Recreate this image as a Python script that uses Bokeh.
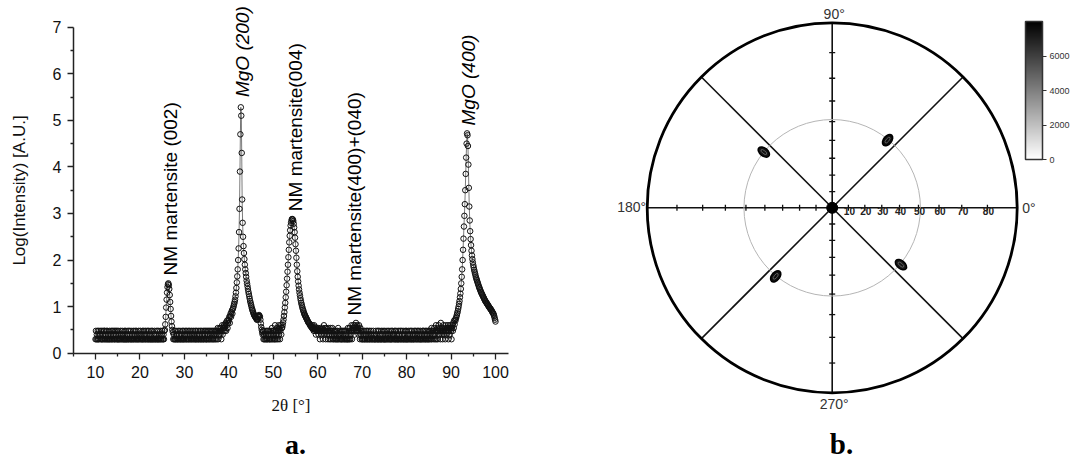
import math
from bokeh.plotting import figure
from bokeh.layouts import row
from bokeh.models import Range1d, FixedTicker, Label, ColumnDataSource, ColorBar, LinearColorMapper
from bokeh.palettes import Greys256
from bokeh.embed import file_html
from bokeh.resources import INLINE
from bokeh.core.properties import value

# ---------------- (a) XRD scan ----------------
SCAN_START = 10.0   # 2theta of first point
SCAN_STEP = 0.1     # 2theta step

# log10 intensity, one row per degree (x.0 ... x.9), 10 .. 99, then 100.0
log_intensity = [
    0.30,0.48,0.30,0.40,0.30,0.48,0.30,0.30,0.48,0.40,  # 10
    0.30,0.40,0.48,0.30,0.30,0.48,0.30,0.40,0.30,0.48,  # 11
    0.48,0.30,0.30,0.40,0.48,0.30,0.30,0.48,0.30,0.40,  # 12
    0.30,0.30,0.48,0.30,0.40,0.30,0.48,0.30,0.30,0.48,  # 13
    0.40,0.30,0.48,0.30,0.30,0.48,0.40,0.30,0.48,0.30,  # 14
    0.30,0.48,0.30,0.30,0.40,0.30,0.48,0.30,0.40,0.30,  # 15
    0.48,0.30,0.40,0.30,0.30,0.48,0.30,0.30,0.48,0.30,  # 16
    0.30,0.40,0.30,0.48,0.30,0.30,0.48,0.40,0.30,0.30,  # 17
    0.48,0.30,0.30,0.40,0.30,0.48,0.30,0.30,0.40,0.48,  # 18
    0.30,0.30,0.48,0.30,0.40,0.30,0.30,0.48,0.30,0.40,  # 19
    0.30,0.48,0.30,0.40,0.30,0.30,0.48,0.30,0.30,0.48,  # 20
    0.40,0.30,0.30,0.48,0.30,0.40,0.30,0.48,0.30,0.30,  # 21
    0.48,0.30,0.40,0.30,0.30,0.48,0.30,0.30,0.48,0.30,  # 22
    0.30,0.40,0.30,0.48,0.30,0.30,0.40,0.30,0.48,0.30,  # 23
    0.30,0.48,0.30,0.30,0.40,0.30,0.48,0.30,0.30,0.40,  # 24
    0.48,0.30,0.30,0.40,0.30,0.48,0.50,0.62,0.78,0.98,  # 25
    1.15,1.30,1.42,1.48,1.50,1.46,1.38,1.25,1.10,0.95,  # 26
    0.80,0.68,0.58,0.50,0.45,0.30,0.40,0.30,0.48,0.30,  # 27
    0.30,0.48,0.30,0.40,0.30,0.30,0.48,0.30,0.40,0.30,  # 28
    0.48,0.30,0.30,0.40,0.30,0.48,0.30,0.30,0.48,0.30,  # 29
    0.30,0.40,0.48,0.30,0.30,0.48,0.30,0.40,0.30,0.48,  # 30
    0.30,0.30,0.48,0.40,0.30,0.30,0.48,0.30,0.40,0.30,  # 31
    0.48,0.30,0.40,0.30,0.48,0.30,0.30,0.48,0.30,0.40,  # 32
    0.30,0.48,0.30,0.30,0.40,0.48,0.30,0.30,0.48,0.30,  # 33
    0.40,0.30,0.48,0.30,0.30,0.48,0.40,0.30,0.48,0.30,  # 34
    0.30,0.48,0.30,0.40,0.48,0.30,0.30,0.48,0.40,0.30,  # 35
    0.48,0.30,0.40,0.48,0.30,0.30,0.48,0.40,0.30,0.48,  # 36
    0.30,0.48,0.40,0.30,0.48,0.54,0.30,0.48,0.40,0.54,  # 37
    0.48,0.40,0.54,0.30,0.48,0.60,0.40,0.54,0.48,0.60,  # 38
    0.54,0.48,0.60,0.65,0.48,0.60,0.70,0.54,0.65,0.72,  # 39
    0.70,0.78,0.65,0.80,0.85,0.78,0.88,0.92,0.85,0.95,  # 40
    0.98,1.02,1.06,1.10,1.15,1.22,1.30,1.40,1.52,1.65,  # 41
    1.80,2.00,2.25,2.60,3.10,3.90,4.70,5.28,5.10,4.30,  # 42
    3.30,2.80,2.50,2.30,2.15,2.02,1.90,1.80,1.72,1.64,  # 43
    1.56,1.50,1.44,1.38,1.32,1.27,1.22,1.17,1.12,1.08,  # 44
    1.04,1.00,0.96,0.93,0.90,0.87,0.84,0.82,0.80,0.78,  # 45
    0.78,0.76,0.74,0.72,0.72,0.74,0.78,0.80,0.82,0.80,  # 46
    0.78,0.72,0.64,0.56,0.50,0.45,0.40,0.48,0.30,0.40,  # 47
    0.30,0.48,0.30,0.40,0.30,0.48,0.30,0.30,0.48,0.40,  # 48
    0.30,0.48,0.30,0.30,0.40,0.48,0.30,0.54,0.30,0.48,  # 49
    0.40,0.30,0.48,0.30,0.60,0.30,0.48,0.40,0.30,0.54,  # 50
    0.48,0.30,0.60,0.40,0.54,0.30,0.48,0.60,0.40,0.54,  # 51
    0.55,0.60,0.66,0.72,0.80,0.88,0.98,1.08,1.20,1.32,  # 52
    1.46,1.60,1.75,1.90,2.06,2.22,2.38,2.52,2.64,2.74,  # 53
    2.80,2.85,2.88,2.88,2.87,2.84,2.78,2.70,2.60,2.48,  # 54
    2.34,2.20,2.05,1.90,1.76,1.64,1.54,1.45,1.37,1.30,  # 55
    1.24,1.18,1.13,1.08,1.04,1.00,0.96,0.93,0.90,0.87,  # 56
    0.84,0.82,0.80,0.78,0.76,0.74,0.72,0.70,0.68,0.66,  # 57
    0.65,0.64,0.62,0.60,0.58,0.60,0.56,0.54,0.60,0.52,  # 58
    0.54,0.48,0.60,0.52,0.48,0.56,0.40,0.54,0.48,0.50,  # 59
    0.48,0.54,0.40,0.52,0.48,0.30,0.54,0.48,0.40,0.52,  # 60
    0.48,0.54,0.30,0.48,0.60,0.40,0.48,0.54,0.30,0.48,  # 61
    0.54,0.40,0.48,0.30,0.54,0.48,0.40,0.30,0.48,0.54,  # 62
    0.30,0.48,0.40,0.54,0.30,0.48,0.30,0.40,0.48,0.30,  # 63
    0.48,0.30,0.40,0.30,0.48,0.30,0.54,0.30,0.40,0.48,  # 64
    0.30,0.40,0.30,0.48,0.30,0.30,0.48,0.40,0.30,0.48,  # 65
    0.30,0.48,0.30,0.40,0.30,0.48,0.30,0.30,0.54,0.30,  # 66
    0.48,0.30,0.54,0.30,0.40,0.48,0.60,0.30,0.48,0.54,  # 67
    0.60,0.48,0.54,0.40,0.60,0.48,0.65,0.54,0.48,0.60,  # 68
    0.48,0.54,0.40,0.60,0.48,0.30,0.54,0.40,0.48,0.30,  # 69
    0.30,0.48,0.30,0.40,0.30,0.48,0.30,0.30,0.40,0.48,  # 70
    0.30,0.30,0.48,0.30,0.40,0.30,0.48,0.30,0.30,0.40,  # 71
    0.48,0.30,0.30,0.40,0.30,0.48,0.30,0.40,0.30,0.30,  # 72
    0.30,0.48,0.40,0.30,0.30,0.48,0.30,0.30,0.48,0.30,  # 73
    0.40,0.30,0.30,0.48,0.30,0.30,0.40,0.48,0.30,0.30,  # 74
    0.30,0.48,0.30,0.30,0.40,0.30,0.48,0.30,0.40,0.30,  # 75
    0.48,0.30,0.40,0.30,0.30,0.48,0.30,0.30,0.48,0.40,  # 76
    0.30,0.40,0.30,0.48,0.30,0.30,0.48,0.30,0.40,0.30,  # 77
    0.30,0.48,0.30,0.30,0.40,0.48,0.30,0.30,0.48,0.30,  # 78
    0.40,0.30,0.48,0.30,0.30,0.40,0.30,0.48,0.30,0.30,  # 79
    0.48,0.30,0.30,0.40,0.30,0.48,0.30,0.40,0.30,0.48,  # 80
    0.30,0.30,0.48,0.30,0.40,0.30,0.30,0.48,0.30,0.40,  # 81
    0.48,0.30,0.30,0.40,0.48,0.30,0.30,0.48,0.40,0.30,  # 82
    0.30,0.48,0.30,0.30,0.40,0.30,0.48,0.30,0.48,0.30,  # 83
    0.40,0.30,0.48,0.30,0.30,0.48,0.40,0.30,0.30,0.48,  # 84
    0.30,0.48,0.30,0.40,0.48,0.30,0.54,0.30,0.48,0.40,  # 85
    0.48,0.30,0.54,0.40,0.30,0.48,0.60,0.30,0.48,0.54,  # 86
    0.30,0.48,0.60,0.40,0.54,0.48,0.30,0.65,0.48,0.40,  # 87
    0.54,0.30,0.48,0.60,0.40,0.48,0.54,0.30,0.60,0.48,  # 88
    0.40,0.54,0.48,0.60,0.30,0.54,0.48,0.40,0.60,0.54,  # 89
    0.48,0.30,0.54,0.60,0.48,0.65,0.54,0.70,0.62,0.72,  # 90
    0.70,0.75,0.78,0.82,0.86,0.90,0.95,1.00,1.06,1.12,  # 91
    1.20,1.28,1.38,1.50,1.64,1.80,2.00,2.22,2.46,2.72,  # 92
    2.95,3.20,3.50,3.85,4.20,4.50,4.72,4.68,4.45,4.05,  # 93
    3.55,3.15,2.85,2.62,2.45,2.32,2.20,2.10,2.02,1.95,  # 94
    1.89,1.84,1.79,1.75,1.71,1.67,1.63,1.60,1.57,1.54,  # 95
    1.51,1.48,1.45,1.42,1.40,1.37,1.35,1.32,1.30,1.28,  # 96
    1.26,1.24,1.22,1.20,1.18,1.16,1.14,1.12,1.11,1.09,  # 97
    1.08,1.06,1.05,1.03,1.02,1.00,0.99,0.97,0.96,0.95,  # 98
    0.93,0.92,0.90,0.88,0.87,0.85,0.83,0.80,0.76,0.72,  # 99
    0.68,                                               # 100
]
two_theta = [round(SCAN_START + SCAN_STEP * i, 2) for i in range(len(log_intensity))]

x_major_ticks = [10, 20, 30, 40, 50, 60, 70, 80, 90, 100]
x_minor_ticks = [5, 15, 25, 35, 45, 55, 65, 75, 85, 95]
y_major_ticks = [0, 1, 2, 3, 4, 5, 6, 7]
y_minor_ticks = [0.5, 1.5, 2.5, 3.5, 4.5, 5.5, 6.5]
x_axis_span = (5, 103)
y_axis_span = (0, 7)

peak_names = ["NM martensite (002)", "MgO (200)", "NM martensite(004)",
              "NM martensite(400)+(040)", "MgO (400)"]
peak_name_x = [26.9, 43.0, 55.0, 68.3, 93.9]
peak_name_y = [1.67, 5.50, 3.05, 0.81, 4.89]
peak_name_style = ["normal", "italic", "normal", "normal", "italic"]

# ---------------- (b) pole figure ----------------
pole_psi = [50.6, 51.0, 51.3, 51.5]
pole_phi = [50.7, 140.8, 230.5, 320.4]
pole_intensity = [7600, 7400, 7500, 7300]
psi_ticks = [10, 20, 30, 40, 50, 60, 70, 80]
ring_psi = 51
spoke_azimuths = [0, 45, 90, 135, 180, 225, 270, 315]
tick_azimuths = [0, 90, 180, 270]
cbar_ticks = [0, 2000, 4000, 6000]
cbar_low, cbar_high = 0, 8000

SANS = "Liberation Sans"
SERIF = "Liberation Serif"
H = 460

# ======== figure a ========
# frame fills the figure; axes are pinned at x=5 / y=0 with fixed_location
PX_PER_DEG = 400.0 / 90.0
PX_PER_UNIT = 326.0 / 7.0
X0_PX, Y0_PX = 95.0, 352.7     # pixel of 2theta=10 and of logI=0
W1 = 538
p1 = figure(width=W1, height=H, output_backend="svg", toolbar_location=None, title=None,
            x_range=Range1d(10 - X0_PX / PX_PER_DEG, 10 + (W1 - X0_PX) / PX_PER_DEG),
            y_range=Range1d(-(H - Y0_PX) / PX_PER_UNIT, Y0_PX / PX_PER_UNIT),
            min_border=0, min_border_left=0, min_border_right=0,
            min_border_top=0, min_border_bottom=0)
p1.outline_line_color = None
p1.grid.visible = False
p1.background_fill_color = "white"

src = ColumnDataSource(dict(x=two_theta, y=log_intensity))
p1.line("x", "y", source=src, line_color="#222222", line_width=0.6)
p1.scatter("x", "y", source=src, marker="circle", size=5.5, fill_color=None,
           line_color="#111111", line_width=1.0)

p1.xaxis.ticker = FixedTicker(ticks=x_major_ticks, minor_ticks=x_minor_ticks)
p1.yaxis.ticker = FixedTicker(ticks=y_major_ticks, minor_ticks=y_minor_ticks)
p1.xaxis.fixed_location = y_axis_span[0]
p1.yaxis.fixed_location = x_axis_span[0]
p1.xaxis.bounds = x_axis_span
p1.yaxis.bounds = y_axis_span
for ax in (p1.xaxis[0], p1.yaxis[0]):
    ax.axis_line_color = "#222222"
    ax.axis_line_width = 1.5
    ax.major_tick_line_color = "#222222"
    ax.minor_tick_line_color = "#222222"
    ax.major_tick_line_width = 1.3
    ax.minor_tick_line_width = 1.3
    ax.major_tick_in = 0
    ax.minor_tick_in = 0
    ax.major_tick_out = 6
    ax.minor_tick_out = 3
    ax.major_label_text_font = SANS
    ax.major_label_text_font_size = "16px"
    ax.major_label_text_color = "#111111"
    ax.axis_label_text_font_style = "normal"
    ax.axis_label_text_color = "#111111"
    ax.axis_label_text_font_size = "17px"
p1.xaxis.axis_label = "2θ [°]"
p1.xaxis.axis_label_text_font = SERIF
p1.xaxis.major_label_standoff = 7
p1.xaxis.axis_label_standoff = 14
p1.yaxis.axis_label = "Log(Intensity) [A.U.]"
p1.yaxis.axis_label_text_font = SANS
p1.yaxis.major_label_standoff = 6
p1.yaxis.axis_label_standoff = 21

for name, px, py, st in zip(peak_names, peak_name_x, peak_name_y, peak_name_style):
    p1.add_layout(Label(x=px, y=py, text=name, angle=90, angle_units="deg",
                        text_align="left", text_baseline="middle",
                        text_font=SANS, text_font_size="19px", text_font_style=st,
                        text_color="#000000"))

p1.add_layout(Label(x=55.0, y=-(444 - Y0_PX) / PX_PER_UNIT, text="a.", text_align="center",
                    text_baseline="alphabetic", text_font=SERIF, text_font_size="28px",
                    text_font_style="bold", text_color="#000000"))

# ======== figure b ========
R = 185.0                  # pixel radius of psi = 90 deg (stereographic projection)
CX, CY = 831.7, 207.3      # page pixel of the projection centre
W2 = 1071 - W1

def proj(psi):
    return R * math.tan(math.radians(psi) / 2.0)

p2 = figure(width=W2, height=H, output_backend="svg", toolbar_location=None, title=None,
            x_range=Range1d(W1 - CX, W1 + W2 - CX), y_range=Range1d(CY - H, CY),
            x_axis_type=None, y_axis_type=None,
            min_border=0, min_border_left=0, min_border_right=0,
            min_border_top=0, min_border_bottom=0)
p2.outline_line_color = None
p2.grid.visible = False

# spokes
p2.segment(x0=[0] * len(spoke_azimuths), y0=[0] * len(spoke_azimuths),
           x1=[R * math.cos(math.radians(a)) for a in spoke_azimuths],
           y1=[R * math.sin(math.radians(a)) for a in spoke_azimuths],
           line_color="#111111", line_width=1.6)
# ring
p2.circle(x=[0], y=[0], radius=[proj(ring_psi)], fill_color=None,
          line_color="#b5b5b5", line_width=1.0)
# outer circle
p2.circle(x=[0], y=[0], radius=[R], fill_color=None, line_color="#000000", line_width=2.8)

# ticks on the four main axes
tx0, ty0, tx1, ty1 = [], [], [], []
for a in tick_azimuths:
    ca, sa = math.cos(math.radians(a)), math.sin(math.radians(a))
    for ps in psi_ticks:
        r = proj(ps)
        cx, cy = r * ca, r * sa
        tx0.append(cx - 3 * sa); ty0.append(cy + 3 * ca)
        tx1.append(cx + 3 * sa); ty1.append(cy - 3 * ca)
p2.segment(x0=tx0, y0=ty0, x1=tx1, y1=ty1, line_color="#111111", line_width=1.3)

# psi tick labels along 0 deg axis
p2.text(x=[proj(ps) + 1 for ps in psi_ticks], y=[-3] * len(psi_ticks),
        text=[str(ps) for ps in psi_ticks], text_align="center", text_baseline="middle",
        text_font=value(SANS), text_font_size="10px", text_font_style="bold",
        text_color="#222222")

# centre dot
p2.scatter(x=[0], y=[0], marker="circle", size=11, fill_color="#000000", line_color="#000000")

# poles
mapper = LinearColorMapper(palette=list(reversed(Greys256)), low=cbar_low, high=cbar_high)
pole_src = ColumnDataSource(dict(
    x=[proj(ps) * math.cos(math.radians(ph)) for ps, ph in zip(pole_psi, pole_phi)],
    y=[proj(ps) * math.sin(math.radians(ph)) for ps, ph in zip(pole_psi, pole_phi)],
    ang=[math.radians(ph) for ph in pole_phi],
    inten=pole_intensity))
p2.ellipse("x", "y", width=13, height=8, angle="ang", source=pole_src,
           fill_color={"field": "inten", "transform": mapper},
           line_color="#000000", line_width=1.5)
p2.ellipse("x", "y", width=7, height=3, angle="ang", source=pole_src,
           fill_color=None, line_color="#707070", line_width=0.8)

# azimuth labels
lab_kw = dict(text_font=SANS, text_font_size="14px", text_color="#333333")
p2.add_layout(Label(x=R + 5, y=0, text="0°", text_align="left", text_baseline="middle", **lab_kw))
p2.add_layout(Label(x=2, y=R + 1, text="90°", text_align="center", text_baseline="bottom", **lab_kw))
p2.add_layout(Label(x=-R - 1, y=1, text="180°", text_align="right", text_baseline="middle", **lab_kw))
p2.add_layout(Label(x=2, y=-R - 3, text="270°", text_align="center", text_baseline="top", **lab_kw))

p2.add_layout(Label(x=841 - CX, y=CY - 443, text="b.", text_align="center",
                    text_baseline="alphabetic", text_font=SERIF, text_font_size="29px",
                    text_font_style="bold", text_color="#000000"))

cbar = ColorBar(color_mapper=mapper, ticker=FixedTicker(ticks=cbar_ticks),
                location=(1025 - W1, H - 159), width=17, height=138, padding=0, margin=0,
                bar_line_color="#333333", bar_line_width=1.5,
                major_tick_in=0, major_tick_out=4, major_tick_line_color="#333333",
                minor_tick_line_color=None, label_standoff=3,
                major_label_text_font=SANS, major_label_text_font_size="9px",
                major_label_text_color="#333333",
                background_fill_color=None, border_line_color=None)
p2.add_layout(cbar, "center")

layout = row(p1, p2)
with open("out.html", "w") as f:
    f.write(file_html(layout, INLINE))
